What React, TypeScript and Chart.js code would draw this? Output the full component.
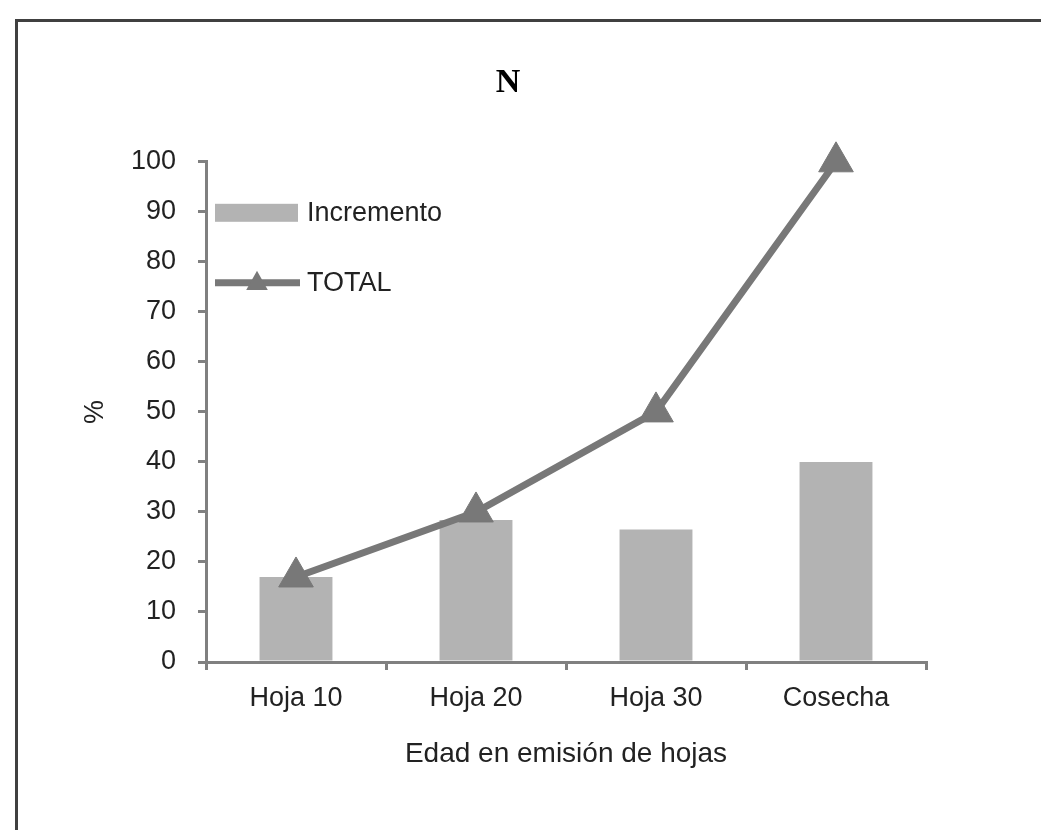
import React, { useEffect, useRef } from "react";
import { Chart, registerables } from "chart.js";

Chart.register(...registerables);

const categories = ["Hoja 10", "Hoja 20", "Hoja 30", "Cosecha"];
const incremento = [17, 28.4, 26.5, 40];
const total = [17, 30, 50, 100];
const seriesNames = ["Incremento", "TOTAL"];
const chartTitle = "N";
const xTitle = "Edad en emisión de hojas";
const yTitle = "%";

const BAR = "#b3b3b3";
const LINE = "#787878";
const AXIS = "#808080";
const TEXT = "#222222";
const SANS = "'Liberation Sans', Arial, sans-serif";

const legendPlugin = {
  id: "insideLegend",
  afterDraw(chart: any) {
    const ctx = chart.ctx;
    const a = chart.chartArea;
    const ds = chart.data.datasets;
    const barDs = ds.find((d: any) => d.type === "bar");
    const lineDs = ds.find((d: any) => d.type === "line");
    ctx.save();
    ctx.font = `27px ${SANS}`;
    ctx.textBaseline = "middle";
    ctx.textAlign = "left";
    // bar entry
    const y1 = a.top + 51;
    ctx.fillStyle = BAR;
    ctx.fillRect(a.left + 9, y1 - 9, 83, 18);
    ctx.fillStyle = TEXT;
    ctx.fillText(barDs.label, a.left + 101, y1 + 1);
    // line entry
    const y2 = a.top + 121;
    ctx.strokeStyle = LINE;
    ctx.lineWidth = 7;
    ctx.beginPath();
    ctx.moveTo(a.left + 9, y2);
    ctx.lineTo(a.left + 94, y2);
    ctx.stroke();
    const cx = a.left + 51;
    const r = 12;
    ctx.fillStyle = LINE;
    ctx.beginPath();
    ctx.moveTo(cx, y2 - r);
    ctx.lineTo(cx + r * 0.9, y2 + r * 0.6);
    ctx.lineTo(cx - r * 0.9, y2 + r * 0.6);
    ctx.closePath();
    ctx.fill();
    ctx.fillStyle = TEXT;
    ctx.fillText(lineDs.label, a.left + 101, y2 + 1);
    ctx.restore();
  },
};

export default function App() {
  const ref = useRef<HTMLCanvasElement | null>(null);
  useEffect(() => {
    if (!ref.current) return;
    const chart = new Chart(ref.current, {
      type: "bar",
      data: {
        labels: categories,
        datasets: [
          {
            type: "line",
            label: seriesNames[1],
            data: total,
            borderColor: LINE,
            backgroundColor: LINE,
            borderWidth: 7,
            pointStyle: "triangle",
            pointRadius: 20,
            pointBackgroundColor: LINE,
            pointBorderColor: LINE,
            pointBorderWidth: 1,
            order: 0,
            clip: false,
          } as any,
          {
            type: "bar",
            label: seriesNames[0],
            data: incremento,
            backgroundColor: BAR,
            barPercentage: 0.405,
            categoryPercentage: 1,
            order: 1,
          },
        ],
      },
      options: {
        responsive: false,
        animation: false,
        devicePixelRatio: 1,
        layout: { padding: { left: 72, right: 88, top: 0, bottom: 59 } },
        plugins: {
          legend: { display: false },
          tooltip: { enabled: false },
          title: {
            display: true,
            text: chartTitle,
            color: "#000",
            font: { family: "'Liberation Serif', 'Times New Roman', serif", size: 34, weight: "bold" },
            padding: { top: 41, bottom: 58 },
          },
        },
        scales: {
          x: {
            offset: true,
            grid: {
              offset: true,
              drawOnChartArea: false,
              drawTicks: true,
              tickLength: 8,
              color: AXIS,
              lineWidth: 3,
            },
            border: { color: AXIS, width: 3 },
            ticks: { color: TEXT, font: { family: SANS, size: 27 }, padding: 12 },
            title: {
              display: true,
              text: xTitle,
              color: TEXT,
              font: { family: SANS, size: 28 },
              padding: { top: 4, bottom: 0 },
            },
            afterFit(scale: any) {
              scale.height = 109;
            },
          },
          y: {
            min: 0,
            max: 100,
            ticks: { stepSize: 10, color: TEXT, font: { family: SANS, size: 27 }, padding: 22 },
            grid: {
              drawOnChartArea: false,
              drawTicks: true,
              tickLength: 8,
              color: AXIS,
              lineWidth: 3,
            },
            border: { color: AXIS, width: 3 },
            title: {
              display: true,
              text: yTitle,
              color: TEXT,
              font: { family: SANS, size: 27 },
              padding: { top: -11, bottom: 0 },
            },
            afterFit(scale: any) {
              scale.width = 116;
            },
          },
        },
      },
      plugins: [legendPlugin],
    });
    return () => chart.destroy();
  }, []);

  return (
    <div
      style={{
        position: "absolute",
        left: 15,
        top: 19,
        width: 1023,
        height: 808,
        borderLeft: "3px solid #404040",
        borderTop: "3px solid #404040",
        background: "#fff",
        overflow: "hidden",
      }}
    >
      <canvas ref={ref} width={996} height={808} style={{ display: "block" }} />
    </div>
  );
}
